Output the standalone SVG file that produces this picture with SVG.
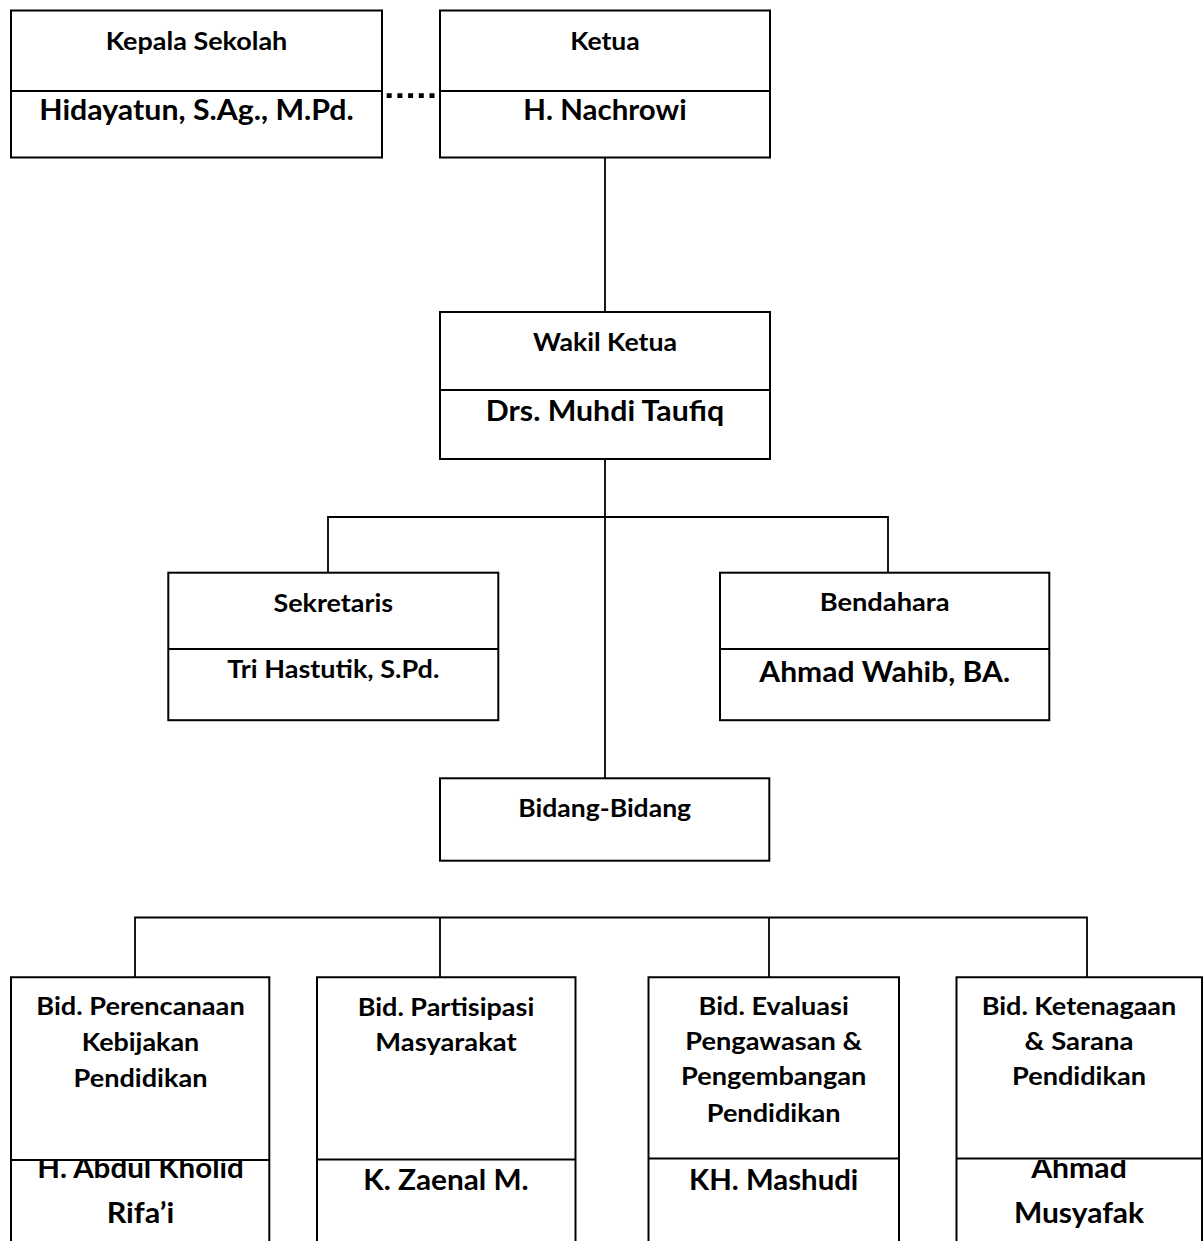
<svg xmlns="http://www.w3.org/2000/svg" width="1203" height="1241" viewBox="0 0 1203 1241">
<style>
.box{fill:none;stroke:#000;stroke-width:2}
.div{stroke:#000;stroke-width:2}
.con{stroke:#000;stroke-width:1.8;fill:none}
.dot{stroke:#000;stroke-width:4.7;stroke-dasharray:5 5.7}
text{font-family:Lato,"Open Sans","Liberation Sans",sans-serif;font-weight:bold;fill:#000;text-anchor:middle}
.t{font-size:25.4px}
.n{font-size:28.2px}
</style>
<defs>
<clipPath id="below"><rect x="0" y="1160" width="1203" height="81"/></clipPath>
</defs>
<rect width="1203" height="1241" fill="#fff"/>
<g id="connectors">
<line class="con" x1="605" y1="157" x2="605" y2="312"/>
<line class="con" x1="605" y1="459" x2="605" y2="778"/>
<polyline class="con" points="328,573 328,517 888,517 888,573"/>
<polyline class="con" points="135,977 135,917.5 1087,917.5 1087,977"/>
<line class="con" x1="440" y1="917.5" x2="440" y2="977"/>
<line class="con" x1="769" y1="917.5" x2="769" y2="977"/>
<line class="dot" x1="386.7" y1="95.7" x2="434.5" y2="95.7"/>
</g>
<g id="kepala-sekolah">
<rect class="box" x="11" y="10.5" width="371" height="147"/>
<line class="div" x1="11" y1="91" x2="382" y2="91"/>
<text class="t" x="196.5" y="50" textLength="181.7" lengthAdjust="spacingAndGlyphs">Kepala Sekolah</text>
<text class="n" x="196.5" y="119.5" textLength="314.5" lengthAdjust="spacingAndGlyphs">Hidayatun, S.Ag., M.Pd.</text>
</g>
<g id="ketua">
<rect class="box" x="440" y="10.5" width="330" height="147"/>
<line class="div" x1="440" y1="91" x2="770" y2="91"/>
<text class="t" x="605" y="50" textLength="69.7" lengthAdjust="spacingAndGlyphs">Ketua</text>
<text class="n" x="605" y="119.5" textLength="163.3" lengthAdjust="spacingAndGlyphs">H. Nachrowi</text>
</g>
<g id="wakil-ketua">
<rect class="box" x="440" y="312" width="330" height="147"/>
<line class="div" x1="440" y1="390" x2="770" y2="390"/>
<text class="t" x="605" y="350.7" textLength="144" lengthAdjust="spacingAndGlyphs">Wakil Ketua</text>
<text class="n" x="605" y="420.7" textLength="238.4" lengthAdjust="spacingAndGlyphs">Drs. Muhdi Taufiq</text>
</g>
<g id="sekretaris">
<rect class="box" x="168.3" y="572.7" width="330" height="147.5"/>
<line class="div" x1="168.3" y1="649" x2="498.3" y2="649"/>
<text class="t" x="333.3" y="611.5" textLength="119.7" lengthAdjust="spacingAndGlyphs">Sekretaris</text>
<text class="t" x="333.3" y="678.3" textLength="212" lengthAdjust="spacingAndGlyphs">Tri Hastutik, S.Pd.</text>
</g>
<g id="bendahara">
<rect class="box" x="720" y="572.7" width="329.3" height="147.5"/>
<line class="div" x1="720" y1="649" x2="1049.3" y2="649"/>
<text class="t" x="884.7" y="610.7" textLength="130" lengthAdjust="spacingAndGlyphs">Bendahara</text>
<text class="n" x="884.7" y="681.7" textLength="250.7" lengthAdjust="spacingAndGlyphs">Ahmad Wahib, BA.</text>
</g>
<g id="bidang-bidang">
<rect class="box" x="440" y="778.3" width="329.3" height="82.4"/>
<text class="t" x="604.7" y="816.7" textLength="172.9" lengthAdjust="spacingAndGlyphs">Bidang-Bidang</text>
</g>
<g id="bid-perencanaan">
<text class="t" x="140.5" y="1015" textLength="208.5" lengthAdjust="spacingAndGlyphs">Bid. Perencanaan</text>
<text class="t" x="140.5" y="1050.7" textLength="117.6" lengthAdjust="spacingAndGlyphs">Kebijakan</text>
<text class="t" x="140.5" y="1086.5" textLength="133.9" lengthAdjust="spacingAndGlyphs">Pendidikan</text>
<text class="n" x="140.5" y="1177.5" textLength="206.6" lengthAdjust="spacingAndGlyphs" clip-path="url(#below)">H. Abdul Kholid</text>
<text class="n" x="140.5" y="1223" textLength="67.7" lengthAdjust="spacingAndGlyphs">Rifa’i</text>
<path class="box" d="M11 1241V977.3H269.3V1241"/>
<line class="div" x1="11" y1="1160" x2="269.3" y2="1160"/>
</g>
<g id="bid-partisipasi">
<text class="t" x="446" y="1016" textLength="176.6" lengthAdjust="spacingAndGlyphs">Bid. Partisipasi</text>
<text class="t" x="446" y="1051" textLength="141.3" lengthAdjust="spacingAndGlyphs">Masyarakat</text>
<text class="n" x="446" y="1190" textLength="165.4" lengthAdjust="spacingAndGlyphs">K. Zaenal M.</text>
<path class="box" d="M317 1241V977.3H575.5V1241"/>
<line class="div" x1="317" y1="1159.5" x2="575.5" y2="1159.5"/>
</g>
<g id="bid-evaluasi">
<text class="t" x="773.7" y="1015" textLength="150.2" lengthAdjust="spacingAndGlyphs">Bid. Evaluasi</text>
<text class="t" x="773.7" y="1050" textLength="176.8" lengthAdjust="spacingAndGlyphs">Pengawasan &amp;</text>
<text class="t" x="773.7" y="1085" textLength="185.3" lengthAdjust="spacingAndGlyphs">Pengembangan</text>
<text class="t" x="773.7" y="1121.5" textLength="133.9" lengthAdjust="spacingAndGlyphs">Pendidikan</text>
<text class="n" x="773.7" y="1190" textLength="169.2" lengthAdjust="spacingAndGlyphs">KH. Mashudi</text>
<path class="box" d="M648.5 1241V977.3H899V1241"/>
<line class="div" x1="648.5" y1="1158.5" x2="899" y2="1158.5"/>
</g>
<g id="bid-ketenagaan">
<text class="t" x="1079" y="1015" textLength="194.6" lengthAdjust="spacingAndGlyphs">Bid. Ketenagaan</text>
<text class="t" x="1079" y="1050" textLength="108.8" lengthAdjust="spacingAndGlyphs">&amp; Sarana</text>
<text class="t" x="1079" y="1085" textLength="133.9" lengthAdjust="spacingAndGlyphs">Pendidikan</text>
<text class="n" x="1079" y="1178" textLength="95.6" lengthAdjust="spacingAndGlyphs" clip-path="url(#below)">Ahmad</text>
<text class="n" x="1079" y="1222.5" textLength="130.2" lengthAdjust="spacingAndGlyphs">Musyafak</text>
<path class="box" d="M956.5 1241V977.3H1202V1241"/>
<line class="div" x1="956.5" y1="1158.5" x2="1202" y2="1158.5"/>
</g>
</svg>
